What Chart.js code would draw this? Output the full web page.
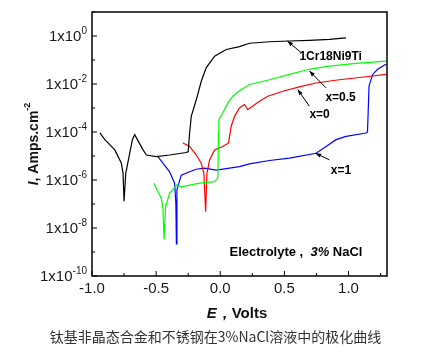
<!DOCTYPE html>
<html><head><meta charset="utf-8">
<script src="https://cdn.jsdelivr.net/npm/chart.js@4/dist/chart.umd.min.js"></script>
<style>html,body{margin:0;padding:0;background:#fff}#wrap{width:439px;height:357px;position:relative}</style>
</head><body><div id="wrap"><canvas id="c" width="439" height="357"></canvas></div>
<script>
// ---- data (E in Volts, I in Amps/cm^2) ----
const E_steel = [-0.939,-0.900,-0.822,-0.771,-0.758,-0.750,-0.737,-0.706,-0.685,-0.667,-0.602,-0.576,-0.498,-0.395,-0.265,-0.250,-0.239,-0.226,-0.187,-0.148,-0.109,-0.044,0.047,0.150,0.228,0.384,0.539,0.695,0.851,0.980];
const I_steel = [9.1e-5,4.8e-5,1.8e-5,5.0e-6,1.9e-6,1.3e-7,1.9e-6,1.3e-5,4.8e-5,7.8e-5,1.8e-5,1.1e-5,9.5e-6,1.1e-5,1.4e-5,1.5e-5,9.1e-5,4.5e-4,2.2e-3,1.3e-2,4.8e-2,0.145,0.275,0.36,0.50,0.575,0.62,0.66,0.72,0.83];

const E_x05 = [-0.517,-0.459,-0.447,-0.438,-0.426,-0.395,-0.338,-0.304,-0.161,-0.044,-0.019,-0.013,-0.011,0.020,0.059,0.098,0.150,0.228,0.384,0.539,0.695,0.851,1.058,1.292];
const I_x05 = [7.4e-7,1.7e-7,6.6e-8,3.3e-9,7.9e-8,2.8e-7,6.3e-7,5.2e-7,7.4e-7,8.5e-7,1.2e-6,1.0e-4,3.2e-4,6.3e-4,1.6e-3,3.1e-3,5.2e-3,9.5e-3,1.5e-2,2.5e-2,4.1e-2,5.6e-2,7.2e-2,8.9e-2];

const E_x0 = [-0.291,-0.239,-0.187,-0.148,-0.128,-0.114,-0.104,-0.083,-0.044,0.020,0.065,0.072,0.085,0.111,0.150,0.189,0.215,0.254,0.306,0.371,0.487,0.617,0.747,0.928,1.136,1.292];
const I_x0 = [3.5e-5,2.5e-5,1.1e-5,5.0e-6,1.9e-6,4.8e-8,1.9e-6,6.9e-6,1.8e-5,2.5e-5,3.5e-5,6.3e-5,1.7e-4,4.5e-4,1.0e-3,1.4e-3,8.5e-4,1.2e-3,1.9e-3,3.1e-3,5.0e-3,7.6e-3,1.1e-2,1.5e-2,2.0e-2,2.5e-2];

const E_x1 = [-0.486,-0.447,-0.395,-0.356,-0.346,-0.342,-0.338,-0.304,-0.239,-0.187,-0.122,-0.031,0.072,0.150,0.228,0.384,0.539,0.747,0.825,0.903,0.981,1.136,1.148,1.160,1.188,1.227,1.292];
const I_x1 = [9.5e-6,5.0e-6,2.2e-6,7.4e-7,1.0e-7,2.2e-9,3.9e-7,1.6e-6,2.2e-6,2.8e-6,3.1e-6,2.6e-6,3.1e-6,3.6e-6,4.7e-6,6.5e-6,8.1e-6,1.3e-5,2.5e-5,4.8e-5,6.6e-5,9.1e-5,1.0e-4,8.1e-3,2.5e-2,4.1e-2,6.6e-2];

const seriesNames = ['1Cr18Ni9Ti','x=0.5','x=0','x=1'];
const xTickValues = [-1.0,-0.5,0.0,0.5,1.0];
const xTickLabels = ['-1.0','-0.5','0.0','0.5','1.0'];
const xMinorValues = [-0.75,-0.25,0.25,0.75,1.25];
const yTickExponents = [0,-2,-4,-6,-8,-10];
const yMinorExponents = [1,-1,-3,-5,-7,-9];

// annotation anchors in data units: [textE, textI, tipE, tipI, tailE, tailI]
const notes = [
  {text: seriesNames[0], tE: 0.617, tI: 0.141, tipE: 0.524, tipI: 0.62, tailE: 0.630, tailI: 0.204},
  {text: seriesNames[1], tE: 0.82,  tI: 2.6e-3, tipE: 0.695, tipI: 3.5e-2, tailE: 0.825, tailI: 6.9e-3},
  {text: seriesNames[2], tE: 0.695, tI: 5.2e-4, tipE: 0.604, tipI: 5.9e-3, tailE: 0.695, tailI: 1.2e-3},
  {text: seriesNames[3], tE: 0.862, tI: 2.5e-6, tipE: 0.742, tipI: 1.3e-5, tailE: 0.851, tailI: 6.9e-6}
];

const mk = (E, I) => E.map((e, i) => ({x: e, y: I[i]}));
const FONT = "'Liberation Sans', Arial, sans-serif";

const decor = {
  id: 'decor',
  afterDraw(chart) {
    const ctx = chart.ctx, xs = chart.scales.x, ys = chart.scales.y, a = chart.chartArea;
    ctx.save();
    // frame
    ctx.strokeStyle = '#000'; ctx.lineWidth = 1.5;
    ctx.strokeRect(a.left, a.top, a.right - a.left, a.bottom - a.top);
    // y ticks
    ctx.lineWidth = 1;
    const yt = (e, len) => { const y = ys.getPixelForValue(Math.pow(10, e)); ctx.beginPath(); ctx.moveTo(a.left, y); ctx.lineTo(a.left + len, y); ctx.stroke(); };
    yTickExponents.forEach(e => yt(e, 5));
    yMinorExponents.forEach(e => yt(e, 3));
    const xt = (v, len) => { const x = xs.getPixelForValue(v); ctx.beginPath(); ctx.moveTo(x, a.bottom); ctx.lineTo(x, a.bottom - len); ctx.stroke(); };
    xTickValues.forEach(v => xt(v, 5));
    xMinorValues.forEach(v => xt(v, 3));
    // y tick labels
    ctx.fillStyle = '#1a1a1a';
    yTickExponents.forEach(e => {
      const y = ys.getPixelForValue(Math.pow(10, e));
      const sup = String(e);
      ctx.font = '10px ' + FONT;
      const sw = ctx.measureText(sup).width;
      ctx.font = '15px ' + FONT;
      const bw = ctx.measureText('1x10').width;
      const right = a.left - 5;
      ctx.textBaseline = 'middle'; ctx.textAlign = 'left';
      ctx.fillText('1x10', right - sw - bw, y + 1);
      ctx.font = '10px ' + FONT;
      ctx.textBaseline = 'alphabetic';
      ctx.fillText(sup, right - sw, y - 2);
    });
    // x tick labels
    ctx.font = '15px ' + FONT; ctx.textAlign = 'center'; ctx.textBaseline = 'middle';
    xTickValues.forEach((v, i) => ctx.fillText(xTickLabels[i], xs.getPixelForValue(v), a.bottom + 12.5));
    // x title
    ctx.fillStyle = '#111';
    const pieces = [['E', 'italic bold 15px ' + FONT], ['，', 'bold 15px ' + FONT], ['Volts', 'bold 15px ' + FONT]];
    let tot = 0; pieces.forEach(p => { ctx.font = p[1]; tot += ctx.measureText(p[0]).width; });
    let cx = 237 - tot / 2; ctx.textAlign = 'left';
    pieces.forEach(p => { ctx.font = p[1]; ctx.fillText(p[0], cx, a.bottom + 38); cx += ctx.measureText(p[0]).width; });
    // y title (rotated)
    ctx.save();
    ctx.translate(34, (a.top + a.bottom) / 2);
    ctx.rotate(-Math.PI / 2);
    const yp = [['I', 'italic bold 14px ' + FONT, 0], [', Amps.cm', 'bold 14px ' + FONT, 0], ['-2', 'bold 9px ' + FONT, -6]];
    tot = 0; yp.forEach(p => { ctx.font = p[1]; tot += ctx.measureText(p[0]).width; });
    cx = -tot / 2;
    yp.forEach(p => { ctx.font = p[1]; ctx.fillText(p[0], cx, p[2]); cx += ctx.measureText(p[0]).width; });
    ctx.restore();
    // annotations
    ctx.strokeStyle = '#000'; ctx.fillStyle = '#000'; ctx.lineWidth = 1;
    notes.forEach(n => {
      const x1 = xs.getPixelForValue(n.tailE), y1 = ys.getPixelForValue(n.tailI);
      const x2 = xs.getPixelForValue(n.tipE), y2 = ys.getPixelForValue(n.tipI);
      const ang = Math.atan2(y2 - y1, x2 - x1);
      ctx.beginPath(); ctx.moveTo(x1, y1); ctx.lineTo(x2, y2); ctx.stroke();
      ctx.beginPath(); ctx.moveTo(x2, y2);
      ctx.lineTo(x2 - 6 * Math.cos(ang - 0.35), y2 - 6 * Math.sin(ang - 0.35));
      ctx.lineTo(x2 - 6 * Math.cos(ang + 0.35), y2 - 6 * Math.sin(ang + 0.35));
      ctx.closePath(); ctx.fill();
      ctx.font = 'bold 12px ' + FONT; ctx.textAlign = 'left'; ctx.textBaseline = 'middle';
      ctx.fillText(n.text, xs.getPixelForValue(n.tE), ys.getPixelForValue(n.tI));
    });
    // electrolyte note
    const ex = xs.getPixelForValue(0.072), ey = ys.getPixelForValue(1.0e-9);
    const ep = [['Electrolyte', 'bold 13px ' + FONT], [' ,  ', 'bold 13px ' + FONT], ['3%', 'italic bold 13px ' + FONT], [' NaCl', 'bold 13px ' + FONT]];
    cx = ex; ctx.textAlign = 'left';
    ep.forEach(p => { ctx.font = p[1]; ctx.fillText(p[0], cx, ey); cx += ctx.measureText(p[0]).width; });
    // caption
    ctx.fillStyle = '#333'; ctx.font = "14px 'Noto Sans CJK SC', sans-serif"; ctx.textAlign = 'center';
    ctx.fillText('钛基非晶态合金和不锈钢在3%NaCl溶液中的极化曲线', 215.5, 337);
    ctx.restore();
  }
};

new Chart(document.getElementById('c'), {
  type: 'line',
  data: {
    datasets: [
      {label: seriesNames[0], data: mk(E_steel, I_steel), borderColor: '#000000'},
      {label: seriesNames[1], data: mk(E_x05, I_x05), borderColor: '#00ff00'},
      {label: seriesNames[2], data: mk(E_x0, I_x0), borderColor: '#ff0000'},
      {label: seriesNames[3], data: mk(E_x1, I_x1), borderColor: '#0000ff'}
    ]
  },
  options: {
    responsive: false, animation: false,
    layout: {padding: {left: 92, top: 12, right: 52, bottom: 81}},
    plugins: {legend: {display: false}, tooltip: {enabled: false}},
    elements: {point: {radius: 0}, line: {tension: 0, borderWidth: 1.2, fill: false}},
    scales: {
      x: {type: 'linear', min: -1.0, max: 1.3, display: false},
      y: {type: 'logarithmic', min: 1e-10, max: 10, display: false}
    }
  },
  plugins: [decor]
});
</script></body></html>
